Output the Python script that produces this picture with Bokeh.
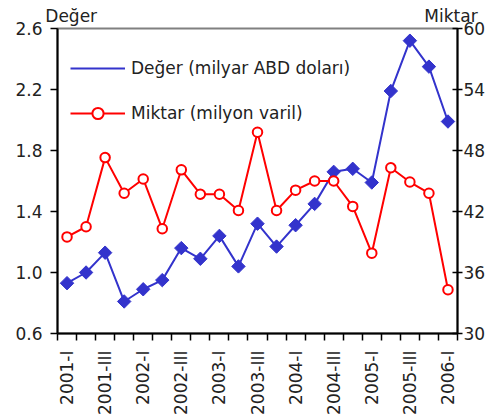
from bokeh.plotting import figure
from bokeh.models import (LinearAxis, Range1d, FixedTicker, Legend, LegendItem)
from bokeh.embed import file_html
from bokeh.resources import INLINE
from math import pi

quarters = ["2001-I", "2001-II", "2001-III", "2001-IV",
            "2002-I", "2002-II", "2002-III", "2002-IV",
            "2003-I", "2003-II", "2003-III", "2003-IV",
            "2004-I", "2004-II", "2004-III", "2004-IV",
            "2005-I", "2005-II", "2005-III", "2005-IV",
            "2006-I"]
deger = [0.93, 1.00, 1.13, 0.81, 0.89, 0.95, 1.16, 1.09, 1.24, 1.04,
         1.32, 1.17, 1.31, 1.45, 1.66, 1.68, 1.59, 2.19, 2.52, 2.35, 1.99]
miktar = [39.5, 40.5, 47.3, 43.8, 45.2, 40.3, 46.1, 43.7, 43.7, 42.1,
          49.8, 42.1, 44.1, 45.0, 45.0, 42.5, 37.9, 46.3, 44.9, 43.8, 34.3]
left_ticks = [0.6, 1.0, 1.4, 1.8, 2.2, 2.6]
right_ticks = [30, 36, 42, 48, 54, 60]
axis_titles = ["Değer", "Miktar"]

FONT = "DejaVu Sans"
FS = "17px"
TXT = "#222222"
BLUE = "#3333CC"
RED = "#FF0000"

n = len(quarters)
xs = [i + 0.5 for i in range(n)]

p = figure(width=496, height=417, output_backend="svg", toolbar_location=None,
           x_range=Range1d(0, n), y_range=Range1d(0.6, 2.6),
           min_border_left=57, min_border_top=28, min_border_right=39,
           min_border_bottom=82)
p.extra_y_ranges = {"right": Range1d(30, 60)}
p.grid.visible = False
p.outline_line_color = "#808080"
p.outline_line_width = 2
p.background_fill_color = "white"
p.border_fill_color = "white"

# bottom category axis
xa = p.xaxis[0]
xa.ticker = FixedTicker(ticks=[xs[i] for i in range(0, n, 2)],
                        minor_ticks=list(range(0, n + 1)))
xa.major_label_overrides = {xs[i]: quarters[i] for i in range(0, n, 2)}
xa.major_label_orientation = pi / 2
xa.major_tick_out = 0
xa.major_tick_in = 0
xa.minor_tick_out = 7
xa.minor_tick_in = 0
xa.minor_tick_line_color = "black"
xa.minor_tick_line_width = 1.5
xa.axis_line_color = "black"
xa.axis_line_width = 2
xa.major_label_standoff = 10
xa.major_label_text_font = FONT
xa.major_label_text_font_size = FS
xa.major_label_text_color = TXT

# top "axis" carrying the two axis titles
t_left, t_right = 0.72, 20.66
ta = LinearAxis(ticker=FixedTicker(ticks=[t_left, t_right]))
ta.major_label_overrides = {t_left: axis_titles[0], t_right: axis_titles[1]}
ta.axis_line_color = None
ta.major_tick_line_color = None
ta.minor_tick_line_color = None
ta.major_tick_out = 0
ta.major_tick_in = 0
ta.major_label_standoff = 3
ta.major_label_text_font = FONT
ta.major_label_text_font_size = FS
ta.major_label_text_color = TXT
p.add_layout(ta, "above")

# left axis
ya = p.yaxis[0]
ya.ticker = FixedTicker(ticks=left_ticks)
ya.major_label_overrides = {t: f"{t:.1f}" for t in left_ticks}
ya.major_tick_out = 7
ya.major_tick_in = 0
ya.minor_tick_out = 0
ya.minor_tick_in = 0
ya.axis_line_color = "black"
ya.axis_line_width = 2
ya.major_tick_line_width = 1.5
ya.major_label_standoff = 8
ya.major_label_text_font = FONT
ya.major_label_text_font_size = FS
ya.major_label_text_color = TXT

# right axis
ra = LinearAxis(y_range_name="right", ticker=FixedTicker(ticks=right_ticks))
ra.major_tick_out = 5
ra.major_tick_in = 5
ra.minor_tick_out = 0
ra.minor_tick_in = 0
ra.axis_line_color = "black"
ra.axis_line_width = 2
ra.major_tick_line_width = 1.5
ra.major_label_standoff = 1
ra.major_label_text_font = FONT
ra.major_label_text_font_size = FS
ra.major_label_text_color = TXT
p.add_layout(ra, "right")

# series
bl = p.line(xs, deger, line_color=BLUE, line_width=2)
bs = p.scatter(xs, deger, marker="square", angle=pi / 4, size=9.5,
               fill_color=BLUE, line_color=BLUE)
rl = p.line(xs, miktar, line_color=RED, line_width=2, y_range_name="right")
rs = p.scatter(xs, miktar, marker="circle", size=9.5, fill_color="white",
               line_color=RED, line_width=2, y_range_name="right")
# legend-only marker (legend glyphs ignore angle)
bleg = p.scatter([], [], marker="diamond", size=12, fill_color=BLUE,
                 line_color=BLUE)

legend = Legend(items=[
    LegendItem(label="Değer (milyar ABD doları)", renderers=[bl, bleg]),
    LegendItem(label="Miktar (milyon varil)", renderers=[rl, rs]),
], location=(13, 206), orientation="vertical")
legend.border_line_color = None
legend.background_fill_alpha = 0
legend.padding = 0
legend.margin = 0
legend.spacing = 17
legend.glyph_width = 55
legend.glyph_height = 28
legend.label_height = 28
legend.label_standoff = 6
legend.label_text_font = FONT
legend.label_text_font_size = FS
legend.label_text_color = TXT
p.add_layout(legend, "center")

open("out.html", "w").write(file_html(p, INLINE))
